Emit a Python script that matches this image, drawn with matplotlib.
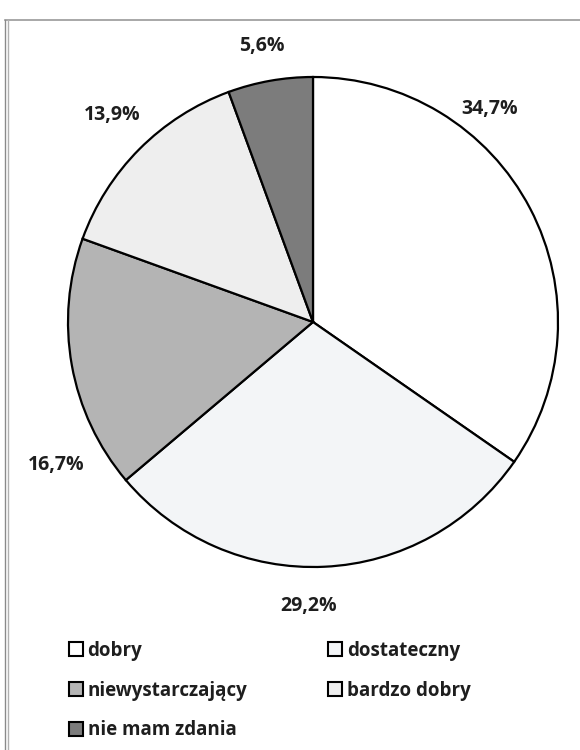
import matplotlib.pyplot as plt
from matplotlib.lines import Line2D
from matplotlib.patches import Patch

plt.rcParams['font.family'] = ['Open Sans', 'DejaVu Sans']

categories = ['dobry', 'dostateczny', 'niewystarczający', 'bardzo dobry', 'nie mam zdania']
values = [34.7, 29.2, 16.7, 13.9, 5.6]
pct_labels = ['34,7%', '29,2%', '16,7%', '13,9%', '5,6%']
colors = ['#ffffff', '#f3f5f7', '#b4b4b4', '#eeeeee', '#7c7c7c']

# label positions in units of pie radius (Excel "best fit" style)
label_pos = [(0.72, 0.87), (-0.02, -1.16), (-1.05, -0.585), (-0.82, 0.845), (-0.21, 1.125)]

fig = plt.figure(figsize=(5.8, 7.5), dpi=100)
fig.patch.set_facecolor('white')

# scan frame lines
fig.add_artist(Line2D([5 / 580, 1], [1 - 20 / 750, 1 - 20 / 750], color='#9a9a9a', lw=1.2))
fig.add_artist(Line2D([5 / 580, 5 / 580], [0, 1 - 20 / 750], color='#8a8a8a', lw=1.0))
fig.add_artist(Line2D([8 / 580, 8 / 580], [0, 1 - 20 / 750], color='#b0b0b0', lw=1.0))

ax = fig.add_axes([68 / 580, 183 / 750, 490 / 580, 490 / 750])
wedges, _ = ax.pie(values, colors=colors, startangle=90, counterclock=False,
                   wedgeprops=dict(edgecolor='black', linewidth=1.6))
ax.set_xlim(-1, 1)
ax.set_ylim(-1, 1)
ax.set_aspect('equal')
ax.axis('off')

for txt, (x, y) in zip(pct_labels, label_pos):
    ax.text(x, y, txt, ha='center', va='center', fontsize=14, fontweight='bold',
            color='#1e1e1e', clip_on=False)

handles = [Patch(facecolor=c, edgecolor='black', linewidth=1.5) for c in colors]
order = [0, 2, 4, 1, 3]
fig.legend([handles[i] for i in order], [categories[i] for i in order],
           ncol=2, loc='upper left', bbox_to_anchor=(52 / 580, 1 - 624 / 750),
           frameon=False, prop=dict(size=13.5, weight='bold'),
           handlelength=0.75, handleheight=0.75, handletextpad=0.25,
           labelspacing=1.05, columnspacing=4.3, labelcolor='#1e1e1e')

fig.savefig('out.png', dpi=100, facecolor='white')
